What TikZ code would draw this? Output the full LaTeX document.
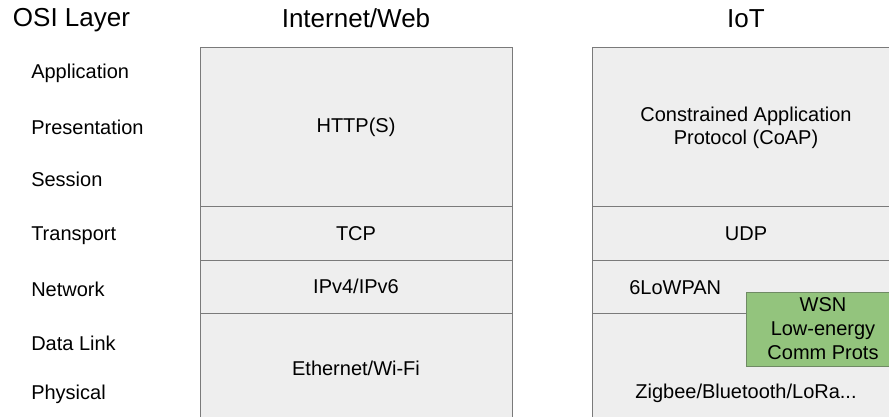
\documentclass[tikz,border=0pt]{standalone}
\usepackage{fontspec}
\setmainfont{Liberation Sans}

\definecolor{stackfill}{HTML}{EEEEEE}
\definecolor{stackline}{HTML}{7A7A7A}
\definecolor{wsnfill}{HTML}{93C47D}
\definecolor{wsnline}{HTML}{6F8A64}

\begin{document}
\begin{tikzpicture}[
x=0.75pt,y=-0.75pt,
heading/.style={font=\fontsize{19.5}{23}\selectfont,inner sep=0pt},
layer/.style={font=\fontsize{15}{17.25}\selectfont,inner sep=0pt,anchor=base west},
label/.style={font=\fontsize{15}{17.25}\selectfont,inner sep=0pt,align=center},
stack/.style={draw=stackline,fill=stackfill,line width=0.75pt,font=\fontsize{15}{17.25}\selectfont,align=center,inner sep=0pt,minimum width=234pt},
iotstack/.style={stack,minimum width=231pt},
wsnbox/.style={stack,fill=wsnfill,draw=wsnline,minimum width=115.5pt,minimum height=55.5pt,font=\fontsize{15}{18}\selectfont} ]

\useasboundingbox (0,0) rectangle (889,417);
\clip (0,0) rectangle (889,417);

% column headings
\node[heading,anchor=base west] (osi) at (12.7,27) {OSI Layer};
\node[heading,anchor=base] (web) at (356,28) {Internet/Web};
\node[heading,anchor=base] (iot) at (746,28) {IoT};

% OSI layers
\node[layer] (app) at (31,79) {Application};
\node[layer] (pres) at (31,135) {Presentation};
\node[layer] (sess) at (31,187) {Session};
\node[layer] (trans) at (31,240) {Transport};
\node[layer] (net) at (31,296) {Network};
\node[layer] (link) at (31,350) {Data Link};
\node[layer] (phys) at (31,399) {Physical};

% internet stack
\node[stack,minimum height=119.25pt] (http) at (356,127.5) {HTTP(S)};
\node[stack,minimum height=39.75pt] (tcp) at (356,233.5) {TCP};
\node[stack,minimum height=39.75pt] (ip) at (356,286.5) {IPv4/IPv6};
\node[stack,minimum height=82.5pt] (eth) at (356,368) {Ethernet/Wi-Fi};

% iot stack
\node[iotstack,minimum height=119.25pt] (coap) at (746,127.5) {Constrained Application\\Protocol (CoAP)};
\node[iotstack,minimum height=39.75pt] (udp) at (746,233.5) {UDP};
\node[iotstack,minimum height=39.75pt] (lowpan) at (746,286.5) {};
\node[iotstack,minimum height=82.5pt] (radio) at (746,368) {};
\node[label,anchor=base west] (lowpantxt) at (629,294) {6LoWPAN};
\node[label,anchor=base] (radiotxt) at (746,398) {Zigbee/Bluetooth/LoRa...};

\node[wsnbox] (wsn) at (823,329) {WSN\\Low-energy\\Comm Prots};

\end{tikzpicture}
\end{document}
